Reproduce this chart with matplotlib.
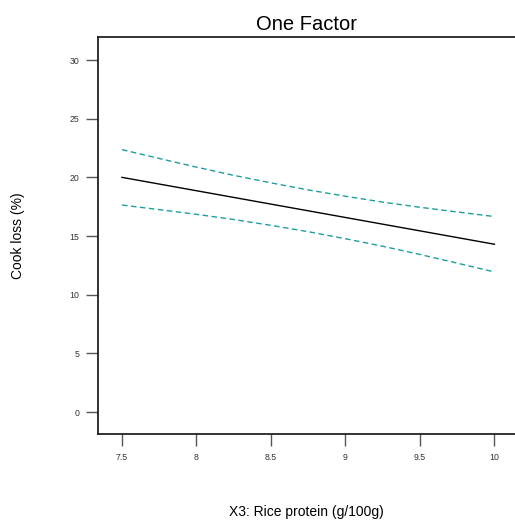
import matplotlib.pyplot as plt

plt.rcParams["font.family"] = ["Liberation Sans", "DejaVu Sans"]

# X3 values and model prediction with confidence band
x3 = [7.5, 7.75, 8.0, 8.25, 8.5, 8.75, 9.0, 9.25, 9.5, 9.75, 10.0]
cook_loss = [20.0, 19.43, 18.86, 18.29, 17.72, 17.15, 16.58, 16.01, 15.44, 14.87, 14.3]
upper_ci = [22.36, 21.61, 20.87, 20.17, 19.53, 18.93, 18.39, 17.89, 17.45, 17.05, 16.66]
lower_ci = [17.64, 17.25, 16.85, 16.41, 15.91, 15.37, 14.77, 14.13, 13.43, 12.69, 11.94]

xticks = [7.5, 8, 8.5, 9, 9.5, 10]
xtick_labels = ["7.5", "8", "8.5", "9", "9.5", "10"]
yticks = [0, 5, 10, 15, 20, 25, 30]

fig = plt.figure(figsize=(5.15, 5.22), dpi=100)
ax = fig.add_axes([98 / 515, 1 - 434 / 522, 1 - 98 / 515, (434 - 37) / 522])

ci_color = "#1f9e9e"
ax.plot(x3, cook_loss, color="black", lw=1.0)
ax.plot(x3, upper_ci, color=ci_color, lw=1.0, dashes=(4, 2.5))
ax.plot(x3, lower_ci, color=ci_color, lw=1.0, dashes=(4, 2.5))

ax.set_xlim(7.339, 10.138)
ax.set_ylim(-1.87, 31.96)
ax.set_xticks(xticks)
ax.set_xticklabels(xtick_labels)
ax.set_yticks(yticks)

ax.spines["right"].set_visible(False)
for side in ["left", "bottom", "top"]:
    ax.spines[side].set_linewidth(1.3)
    ax.spines[side].set_color("#222222")
ax.tick_params(axis="both", direction="out", length=8.5, width=1.0,
               color="#555555", labelsize=6.3, labelcolor="#333333", pad=5)

ax.set_title("One Factor", fontsize=14.5, pad=5)
ax.set_ylabel("Cook loss (%)", fontsize=10, labelpad=32)
ax.set_xlabel("X3: Rice protein (g/100g)", fontsize=10, labelpad=31)

fig.savefig("out.png", dpi=100)
